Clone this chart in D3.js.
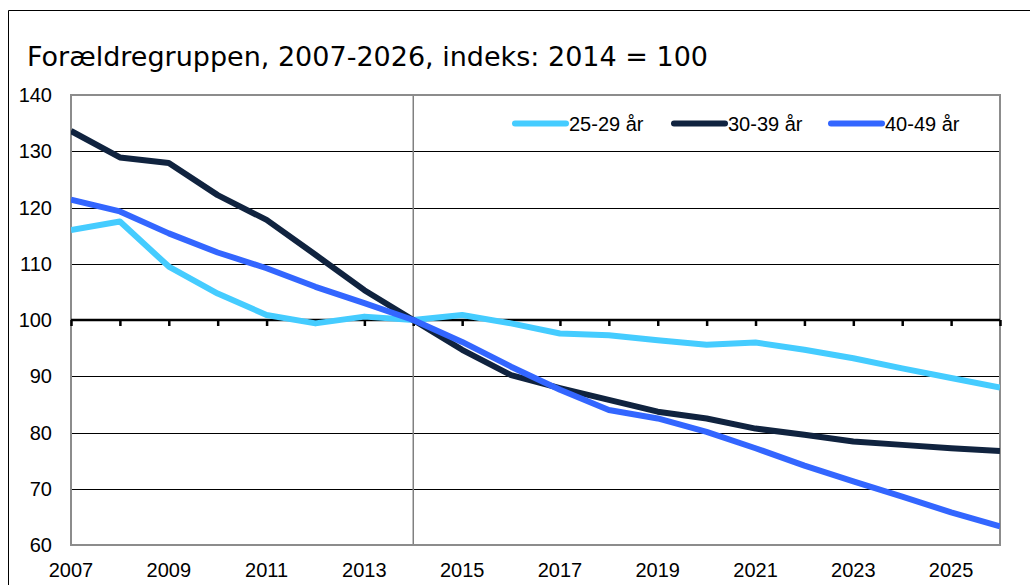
<!DOCTYPE html>
<html>
<head>
<meta charset="utf-8">
<script src="https://cdn.jsdelivr.net/npm/d3@7"></script>
<style>
  body { margin: 0; background: #fff; }
  svg text { font-family: "Liberation Sans", Arial, sans-serif; }
</style>
</head>
<body>
<div id="chart"></div>
<script>
var years = d3.range(2007, 2027);
var tickYears = [2007, 2009, 2011, 2013, 2015, 2017, 2019, 2021, 2023, 2025];
var yTicks = [60, 70, 80, 90, 100, 110, 120, 130, 140];

var s2529 = [116.0, 117.5, 109.5, 104.7, 100.9, 99.4, 100.6, 100, 100.9, 99.4,
             97.6, 97.3, 96.4, 95.6, 96.0, 94.7, 93.2, 91.4, 89.7, 88.0];
var s3039 = [133.6, 128.9, 127.9, 122.2, 117.8, 111.6, 105.3, 100, 94.7, 90.2,
             87.9, 85.8, 83.7, 82.5, 80.7, 79.6, 78.4, 77.8, 77.2, 76.7];
var s4049 = [121.4, 119.3, 115.4, 112.0, 109.2, 105.9, 103.0, 100, 96.1, 91.7,
             87.6, 84.0, 82.5, 80.1, 77.2, 74.1, 71.3, 68.6, 65.8, 63.3];

var series = [
  {name: "25-29 år", values: s2529, color: "#45ccff"},
  {name: "30-39 år", values: s3039, color: "#10233f"},
  {name: "40-49 år", values: s4049, color: "#3366ff"}
];

var W = 1030, H = 585;
var margin = {top: 95, right: 30, bottom: 40, left: 71};

var svg = d3.select("#chart").append("svg")
    .attr("width", W)
    .attr("height", H);

// outer frame (top + left only visible)
svg.append("path")
    .attr("d", "M8.5," + H + "V10.5H" + W)
    .attr("fill", "none")
    .attr("stroke", "#000")
    .attr("stroke-width", 1);

svg.append("text")
    .attr("x", 27)
    .attr("y", 66)
    .style("font-family", "'DejaVu Sans', Verdana, sans-serif")
    .style("font-size", "26px")
    .attr("textLength", 681)
    .attr("lengthAdjust", "spacingAndGlyphs")
    .attr("fill", "#000")
    .text("Forældregruppen, 2007-2026, indeks: 2014 = 100");

var x = d3.scaleLinear()
    .domain([2007, 2026])
    .range([margin.left, W - margin.right]);

var y = d3.scaleLinear()
    .domain([60, 140])
    .range([H - margin.bottom, margin.top]);

// gridlines
svg.append("g")
    .selectAll("line")
    .data(yTicks.filter(function(d) { return d != 60 && d != 140 && d != 100; }))
    .enter().append("line")
    .attr("x1", x(2007))
    .attr("x2", x(2026))
    .attr("y1", function(d) { return Math.round(y(d)) + 0.5; })
    .attr("y2", function(d) { return Math.round(y(d)) + 0.5; })
    .attr("stroke", "#000")
    .attr("stroke-width", 1);

// vertical line at 2014
svg.append("line")
    .attr("x1", x(2014))
    .attr("x2", x(2014))
    .attr("y1", y(140))
    .attr("y2", y(60))
    .attr("stroke", "#808080")
    .attr("stroke-width", 1.5);

// plot border
svg.append("rect")
    .attr("x", x(2007))
    .attr("y", y(140))
    .attr("width", x(2026) - x(2007))
    .attr("height", y(60) - y(140))
    .attr("fill", "none")
    .attr("stroke", "#8c8c8c")
    .attr("stroke-width", 2);

// x axis at 100
var xAxis = d3.axisBottom(x)
    .tickValues(years)
    .tickSize(6)
    .tickFormat("");

var axisG = svg.append("g")
    .attr("transform", "translate(0," + y(100) + ")")
    .call(xAxis);
axisG.select(".domain")
    .attr("stroke", "#000")
    .attr("stroke-width", 2.5)
    .attr("d", "M" + x(2007) + ",0H" + x(2026));
axisG.selectAll(".tick line")
    .attr("stroke", "#000")
    .attr("stroke-width", 2.5);

// x labels
svg.append("g")
    .selectAll("text")
    .data(tickYears)
    .enter().append("text")
    .attr("x", function(d) { return x(d); })
    .attr("y", H - 8)
    .attr("text-anchor", "middle")
    .style("font-size", "20px")
    .text(function(d) { return d; });

// y labels
svg.append("g")
    .selectAll("text")
    .data(yTicks)
    .enter().append("text")
    .attr("x", 52)
    .attr("y", function(d) { return y(d) + 7; })
    .attr("text-anchor", "end")
    .style("font-size", "20px")
    .text(function(d) { return d; });

var line = d3.line()
    .x(function(d, i) { return x(years[i]); })
    .y(function(d) { return y(d); });

svg.append("clipPath").attr("id", "clip")
    .append("rect")
    .attr("x", x(2007))
    .attr("y", y(140))
    .attr("width", x(2026) - x(2007))
    .attr("height", y(60) - y(140));

svg.append("g")
    .attr("clip-path", "url(#clip)")
    .selectAll("path")
    .data(series)
    .enter().append("path")
    .attr("d", function(d) { return line(d.values); })
    .attr("fill", "none")
    .attr("stroke", function(d) { return d.color; })
    .attr("stroke-width", 6)
    .attr("stroke-linejoin", "round");

// legend
var legX = [512, 671, 828];
var leg = svg.append("g")
    .selectAll("g")
    .data(series)
    .enter().append("g")
    .attr("transform", function(d, i) { return "translate(" + legX[i] + ",123.5)"; });
leg.append("line")
    .attr("x1", 3).attr("x2", 54)
    .attr("stroke", function(d) { return d.color; })
    .attr("stroke-width", 6)
    .attr("stroke-linecap", "round");
leg.append("text")
    .attr("x", 57)
    .attr("y", 7)
    .style("font-size", "20px")
    .text(function(d) { return d.name; });
</script>
</body>
</html>
